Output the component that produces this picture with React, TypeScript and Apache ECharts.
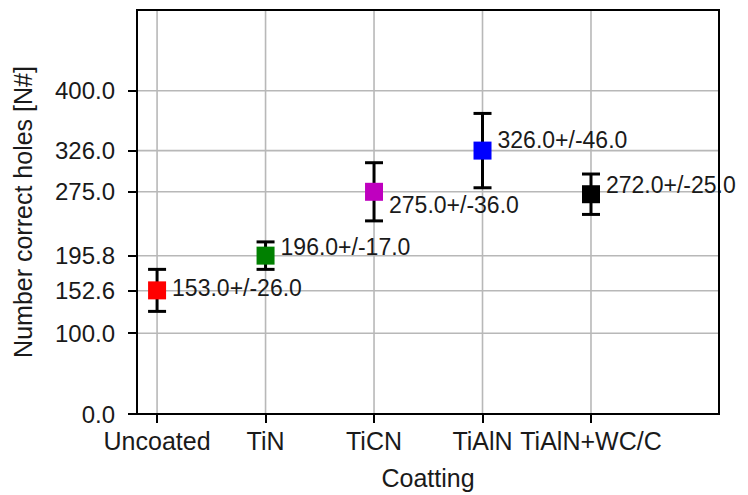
import React, { useEffect, useRef } from "react";
import * as echarts from "echarts";

const categories = ["Uncoated", "TiN", "TiCN", "TiAlN", "TiAlN+WC/C"];
const means = [153.0, 196.0, 275.0, 326.0, 272.0];
const errors = [26.0, 17.0, 36.0, 46.0, 25.0];
const colors = ["#ff0000", "#008000", "#bf00bf", "#0000ff", "#000000"];
const yTicks = [0, 100, 152.6, 195.8, 275.0, 326.0, 400.0];
const xTicks = [0, 1, 2, 3, 4];

// label vertical offsets (px) as placed in the reference
const labelDy = [-2, -8.5, 13, -10.5, -9.5];

const FONT = "'Liberation Sans', Arial, sans-serif";
const X_MIN = -0.185;
const X_MAX = 5.18;
const Y_MIN = 0;
const Y_MAX = 500;

export default function App() {
  const ref = useRef<HTMLDivElement>(null);
  useEffect(() => {
    if (!ref.current) return;
    const chart = echarts.init(ref.current, null, { renderer: "svg" });
    const gridColor = "#b8b8b8";
    const option: any = {
      animation: false,
      backgroundColor: "#ffffff",
      textStyle: { fontFamily: FONT },
      grid: {
        left: 137,
        top: 10,
        right: 29,
        bottom: 80,
        show: true,
        borderColor: "#000",
        borderWidth: 2,
        backgroundColor: "transparent",
        z: 10,
      },
      xAxis: {
        type: "value",
        min: X_MIN,
        max: X_MAX,
        name: "Coatting",
        nameLocation: "middle",
        nameGap: 51,
        nameTextStyle: { fontSize: 25, color: "#1a1a1a", fontFamily: FONT },
        axisLine: { show: true, onZero: false, lineStyle: { color: "#000", width: 2 } },
        axisTick: {
          show: true,
          inside: false,
          length: 9,
          customValues: xTicks,
          lineStyle: { color: "#000", width: 2 },
        },
        axisLabel: {
          show: true,
          margin: 14,
          fontSize: 25,
          color: "#1a1a1a",
          fontFamily: FONT,
          customValues: xTicks,
          formatter: (v: number) => categories[Math.round(v)] ?? "",
        },
        splitLine: { show: false },
      },
      yAxis: {
        type: "value",
        min: Y_MIN,
        max: Y_MAX,
        name: "Number correct holes [N#]",
        nameLocation: "middle",
        nameGap: 102,
        nameTextStyle: { fontSize: 25, color: "#1a1a1a", fontFamily: FONT },
        axisLine: { show: true, onZero: false, lineStyle: { color: "#000", width: 2 } },
        axisTick: {
          show: true,
          inside: false,
          length: 9,
          customValues: yTicks,
          lineStyle: { color: "#000", width: 2 },
        },
        axisLabel: {
          show: true,
          margin: 22,
          fontSize: 24,
          color: "#1a1a1a",
          fontFamily: FONT,
          customValues: yTicks,
          formatter: (v: number) => v.toFixed(1),
        },
        splitLine: { show: false },
      },
      series: [
        {
          // horizontal grid lines
          type: "custom",
          z: 1,
          silent: true,
          data: yTicks.filter((v) => v > 0).map((v) => [v]),
          encode: { y: 0 },
          renderItem: (params: any, api: any) => {
            const v = api.value(0);
            const a = api.coord([X_MIN, v]);
            const b = api.coord([X_MAX, v]);
            return {
              type: "rect",
              shape: { x: a[0], y: a[1] - 0.8, width: b[0] - a[0], height: 1.6 },
              style: { fill: gridColor },
            };
          },
        },
        {
          // vertical grid lines
          type: "custom",
          z: 1,
          silent: true,
          data: xTicks.map((v) => [v]),
          encode: { x: 0 },
          renderItem: (params: any, api: any) => {
            const v = api.value(0);
            const a = api.coord([v, Y_MAX]);
            const b = api.coord([v, Y_MIN]);
            return {
              type: "rect",
              shape: { x: a[0] - 0.8, y: a[1], width: 1.6, height: b[1] - a[1] },
              style: { fill: gridColor },
            };
          },
        },
        {
          type: "custom",
          z: 3,
          silent: true,
          data: means.map((m, i) => [i, m, errors[i]]),
          encode: { x: 0, y: 1 },
          renderItem: (params: any, api: any) => {
            const x = api.value(0);
            const y = api.value(1);
            const e = api.value(2);
            const top = api.coord([x, y + e]);
            const bot = api.coord([x, y - e]);
            const hw = 9;
            const lw = 3;
            const st = { fill: "#000" };
            return {
              type: "group",
              children: [
                { type: "rect", shape: { x: top[0] - lw / 2, y: top[1], width: lw, height: bot[1] - top[1] }, style: st },
                { type: "rect", shape: { x: top[0] - hw, y: top[1] - lw / 2, width: hw * 2, height: lw }, style: st },
                { type: "rect", shape: { x: bot[0] - hw, y: bot[1] - lw / 2, width: hw * 2, height: lw }, style: st },
              ],
            };
          },
        },
        {
          type: "scatter",
          z: 4,
          symbol: "rect",
          symbolSize: 18,
          itemStyle: { opacity: 1 },
          data: means.map((m, i) => ({
            value: [i, m],
            itemStyle: { color: colors[i], opacity: 1 },
            label: { offset: [0, labelDy[i]] },
          })),
          label: {
            show: true,
            position: "right",
            distance: 6,
            fontSize: 23,
            color: "#1a1a1a",
            opacity: 1,
            fontFamily: FONT,
            formatter: (p: any) =>
              `${means[p.dataIndex].toFixed(1)}+/-${errors[p.dataIndex].toFixed(1)}`,
          },
        },
      ],
    };
    chart.setOption(option);
    return () => chart.dispose();
  }, []);
  return (
    <div
      ref={ref}
      style={{ position: "fixed", left: 0, top: 0, width: 748, height: 495 }}
    />
  );
}
